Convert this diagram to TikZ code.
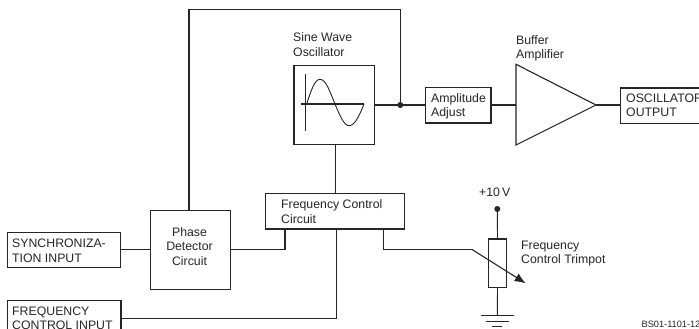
\documentclass[tikz,border=0pt]{standalone}
\usepackage{fontspec}
\setmainfont{Liberation Sans}
\usetikzlibrary{arrows.meta,calc}
\definecolor{ink}{HTML}{262626}
\tikzset{
  wire/.style={draw=ink,line width=1.1pt},
  thinw/.style={draw=ink,line width=0.9pt},
  txt/.style={font=\fontsize{12.3}{14.7}\selectfont,text=ink,inner sep=0pt,align=left},
  ctxt/.style={txt,align=center},
  pic box/.style={draw=ink,line width=1.1pt,anchor=north west,inner sep=0pt,outer sep=0pt,
    font=\fontsize{12.3}{14.7}\selectfont,text=ink,align=left},
  dot/.style={circle,fill=ink,draw=none,minimum size=6pt,inner sep=0pt},
}
\newcommand{\bx}[6]{% name, x, y, w, h, text
  \node[pic box,minimum width=#4pt,minimum height=#5pt] (#1) at (#2,#3) {#6};}
\begin{document}
\begin{tikzpicture}[x=1pt,y=-1pt]
\useasboundingbox (0,0) rectangle (699,329);
\clip (0,0) rectangle (699,329);
\fill[white] (0,0) rectangle (699,329);
% boxes
\bx{sine}{294}{65.7}{80.3}{79}{}
\bx{amp}{425.7}{87.7}{65.3}{35.3}{}
\bx{out}{620.7}{88}{100}{35.5}{}
\bx{fc}{265.7}{193.5}{138.6}{35.5}{}
\bx{pd}{150.3}{210.7}{80.4}{78.6}{}
\bx{sync}{7.7}{232.3}{112.6}{35}{}
\bx{fin}{7.7}{300.7}{113.3}{40}{}
\node[draw=ink,line width=1.1pt,minimum width=18pt,minimum height=48.7pt,inner sep=0pt,outer sep=0pt] (pot) at (497.5,263.3) {};
% buffer triangle
\coordinate (bufA) at (516,64.3);
\coordinate (bufB) at (516,145);
\coordinate (bufC) at (596,105);
\draw[wire,line join=miter] (bufA) -- (bufC) -- (bufB) -- cycle;
% texts
\node[txt,anchor=north west] (t1) at (293,32.5) {Sine Wave\\Oscillator};
\node[txt,anchor=north west] (t2) at (516,35) {Buffer\\Amplifier};
\node[txt,anchor=north west] (t3) at (431,93) {Amplitude\\Adjust};
\node[txt,anchor=north west] (t4) at (626,93.5) {OSCILLATOR\\OUTPUT};
\node[txt,anchor=north west] (t5) at (281,199.5) {Frequency Control\\Circuit};
\node[ctxt] (t6) at (189.5,246.5) {Phase\\Detector\\Circuit};
\node[txt,anchor=north west] (t7) at (12,239) {SYNCHRONIZA-\\TION INPUT};
\node[txt,anchor=north west] (t8) at (12,306.5) {FREQUENCY\\CONTROL INPUT};
\node[txt,anchor=north west] (t9) at (521,240.5) {Frequency\\Control Trimpot};
\node[txt,anchor=north west] (t10) at (479,188) {+10\,V};
\node[anchor=west,inner sep=0pt,font=\fontsize{9.2}{10}\selectfont,text=ink] (t11) at (641.5,324) {BS01-1101-12};
% wires
\node[dot] (j) at (400.3,105) {};
\coordinate (topR) at (400.3,9.3);
\coordinate (topL) at (189,9.3);
\draw[wire,line join=miter] (j.center) -- (topR) -- (topL) -- (topL |- pd.north);
\draw[wire] (sine.east |- j) -- (j.center) -- (amp.west |- j);
\draw[wire] (amp.east |- j) -- (516,105);
\draw[wire] (bufC) -- (out.west |- bufC);
\draw[wire] (335.7,144.7) -- (335.7,193.5);
\draw[wire] (sync.east) -- (pd.west |- sync.east);
\coordinate (pf) at (285,249.7);
\draw[wire,line join=miter] (pd.east |- pf) -- (pf) -- (pf |- fc.south);
\coordinate (fi) at (336.7,318.3);
\draw[wire,line join=miter] (fin.east |- fi) -- (fi) -- (fi |- fc.south);
% trimpot
\coordinate (w1) at (383.7,249.3);
\coordinate (w2) at (471.7,249.3);
\coordinate (tip) at (525.7,283.3);
\draw[wire,line join=miter] (w1 |- fc.south) -- (w1) -- (w2);
\draw[wire,-{Latex[length=11pt,width=9pt]}] (w2) -- (tip);
\node[dot] (vp) at (497.3,209) {};
\draw[thinw] (vp.center) -- (pot.north);
\coordinate (g1) at (497.3,315);
\draw[thinw] (pot.south) -- (g1);
\coordinate (g1l) at (480.7,315); \coordinate (g1r) at (514,315);
\coordinate (g2l) at (485.7,321); \coordinate (g2r) at (509,321);
\coordinate (g3l) at (492.3,326.7); \coordinate (g3r) at (502.3,326.7);
\draw[thinw] (g1l) -- (g1r);
\draw[thinw] (g2l) -- (g2r);
\draw[thinw] (g3l) -- (g3r);
% sine icon
\draw[draw=ink,line width=1.4pt] (305.7,74) -- (305.7,130.7);
\draw[draw=ink,line width=1.4pt] (300.7,104) -- (364,104);
\draw[draw=ink,line width=0.9pt] (306.7,104)
  .. controls (311,90) and (315,79.3) .. (320,79.3)
  .. controls (326,79.3) and (330,92) .. (335,104)
  .. controls (340,116) and (344,125.7) .. (349.3,125.7)
  .. controls (355,125.7) and (360,114) .. (364,104);
\end{tikzpicture}
\end{document}
